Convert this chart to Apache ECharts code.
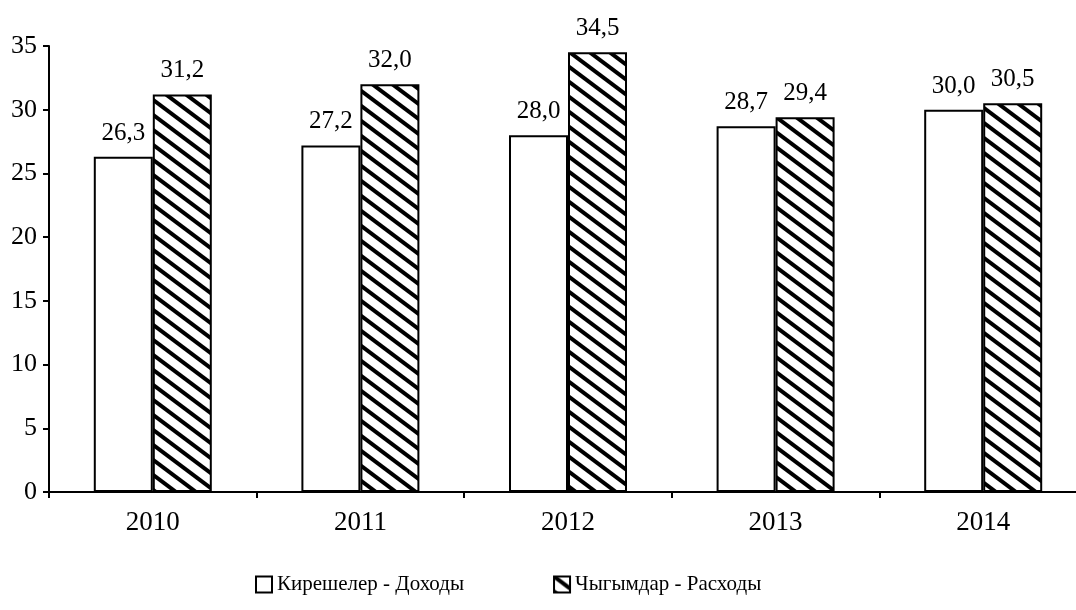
<!DOCTYPE html>
<html lang="ru">
<head>
    <meta charset="UTF-8">
    <title>Доходы и расходы</title>
    <script src="https://cdn.jsdelivr.net/npm/echarts@6/dist/echarts.min.js"></script>
    <style>
        html, body { margin: 0; padding: 0; background: #fff; overflow: hidden; }
    </style>
</head>
<body>
<!-- холст шире окна: ось X уходит за правый край -->
<div id="main" style="width: 1092px;height:610px;"></div>
<script type="text/javascript">
    // данные
    var years = ['2010', '2011', '2012', '2013', '2014'];
    var incomes = [26.3, 27.2, 28.0, 28.7, 30.0];
    var expenses = [31.2, 32.0, 34.5, 29.4, 30.5];
    var seriesNames = ['Кирешелер - Доходы', 'Чыгымдар - Расходы'];

    // штриховка "\\\" для второго ряда
    function makeHatch() {
        var w = 20, h = 15;
        var c = document.createElement('canvas');
        c.width = w; c.height = h;
        var ctx = c.getContext('2d');
        ctx.fillStyle = '#fff';
        ctx.fillRect(0, 0, w, h);
        ctx.strokeStyle = '#000';
        ctx.lineWidth = 4;
        // линии продлены за края плитки, чтобы не было разрывов
        for (var k = -2; k <= 2; k++) {
            ctx.beginPath();
            ctx.moveTo(k * w - w, -h);
            ctx.lineTo(k * w + 2 * w, 2 * h);
            ctx.stroke();
        }
        return c;
    }

    function fmt(p) {
        return p.value.toFixed(1).replace('.', ',');
    }

    var font = '"Liberation Serif", "Times New Roman", serif';
    var myChart = echarts.init(document.getElementById('main'));
    var labelStyle = {
        show: true,
        position: 'top',
        distance: 11,
        formatter: fmt,
        color: '#000',
        fontFamily: font,
        fontSize: 25
    };

    myChart.setOption({
        animation: false,
        textStyle: { fontFamily: font },
        grid: { left: 49, width: 1038, top: 46, height: 446, containLabel: false },
        legend: {
            top: 569,
            left: 250,
            itemGap: 89,
            icon: 'rect',
            itemWidth: 16,
            itemHeight: 16,
            textStyle: { fontFamily: font, fontSize: 21, color: '#000' },
            data: seriesNames
        },
        xAxis: {
            type: 'category',
            data: years,
            axisLine: { lineStyle: { color: '#000', width: 2 } },
            axisTick: { show: true, length: 6, lineStyle: { color: '#000', width: 2 } },
            axisLabel: { color: '#000', fontFamily: font, fontSize: 27, margin: 17 }
        },
        yAxis: {
            type: 'value',
            min: 0,
            max: 35,
            interval: 5,
            axisLine: { show: true, lineStyle: { color: '#000', width: 2 } },
            axisTick: { show: true, length: 6, lineStyle: { color: '#000', width: 2 } },
            splitLine: { show: false },
            axisLabel: { color: '#000', fontFamily: font, fontSize: 26, margin: 12 }
        },
        series: [
            {
                name: seriesNames[0],
                type: 'bar',
                data: incomes,
                barWidth: 59,
                barGap: '0%',
                itemStyle: { color: '#fff', borderColor: '#000', borderWidth: 2 },
                label: labelStyle
            },
            {
                name: seriesNames[1],
                type: 'bar',
                data: expenses,
                barWidth: 59,
                itemStyle: {
                    color: { image: makeHatch(), repeat: 'repeat' },
                    borderColor: '#000',
                    borderWidth: 2
                },
                label: labelStyle
            }
        ]
    });
</script>
</body>
</html>
